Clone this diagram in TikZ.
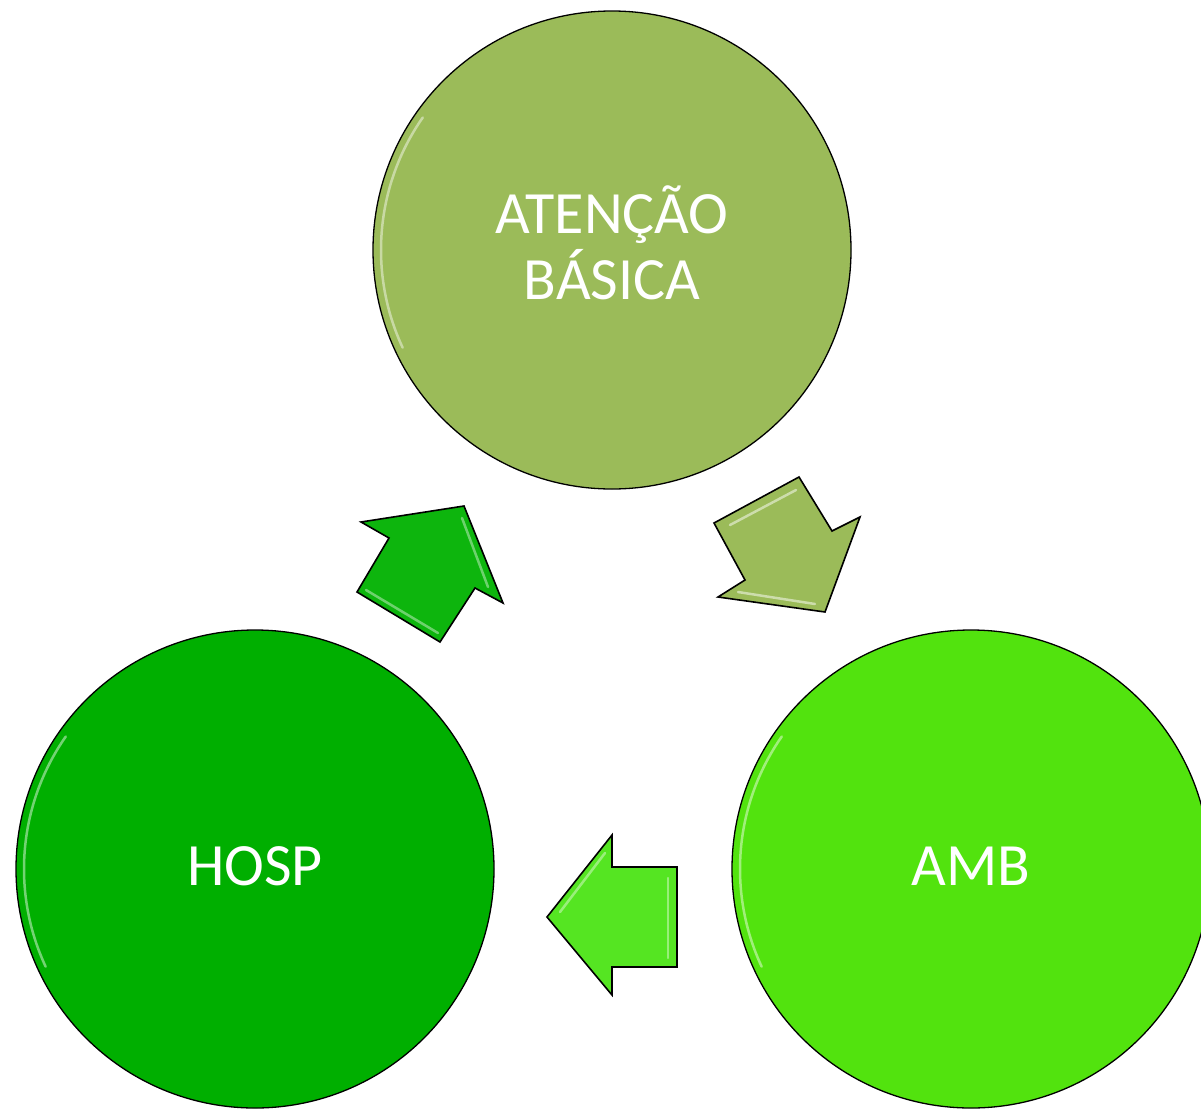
\documentclass[tikz,border=0pt]{standalone}
\usepackage{fontspec}
\setmainfont{Carlito}
\definecolor{cTop}{HTML}{9BBB59}
\definecolor{cHosp}{HTML}{00AF00}
\definecolor{cAmb}{HTML}{52E30E}
\definecolor{cUp}{HTML}{0DB50D}
\definecolor{cLeft}{HTML}{55E522}
\begin{document}
\begin{tikzpicture}[x=1pt,y=-1pt,
  circ/.style={circle,draw=black,line width=1.3pt,minimum size=478pt,inner sep=0pt},
  lbl/.style={text=white,font=\fontsize{60}{66}\selectfont,align=center,inner sep=0pt},
  blockarrow/.style={draw=black,line width=1.6pt,line join=miter},
  gloss/.style={white,opacity=0.45,line width=2.5pt,line cap=round}]
\useasboundingbox (0,0) rectangle (1201,1108);
\node[circ,fill=cTop] (top) at (612,250) {};
\node[circ,fill=cHosp] (hosp) at (255,869) {};
\node[circ,fill=cAmb] (amb) at (971,869) {};
\node[lbl] (toptext) at (612,243) {ATENÇÃO\\BÁSICA};
\node[lbl] (hosptext) at (255,866) {HOSP};
\node[lbl] (ambtext) at (971,866) {AMB};
\foreach \c in {top,hosp,amb}{
  \draw[gloss] (\c.center) ++(155:231) arc (155:215:231);
}
% arrow HOSP -> top
\draw[blockarrow,fill=cUp] (464,506) -- (503,603) -- (475,588) -- (440,642) -- (357,592) -- (389,538) -- (361,522) -- cycle;
\draw[gloss,opacity=0.4] (366,590) -- (438,633);
\draw[gloss,opacity=0.4] (462,518) -- (488,587);
% arrow top -> AMB
\draw[blockarrow,fill=cTop] (714,523) -- (799,477) -- (832,531) -- (860,517) -- (825,612) -- (718,597) -- (745,580) -- cycle;
\draw[gloss,opacity=0.5] (730,525) -- (796,490);
\draw[gloss,opacity=0.5] (738,592) -- (815,604);
% arrow AMB -> HOSP
\draw[blockarrow,fill=cLeft] (547,917) -- (612,835) -- (612,867) -- (677,867) -- (677,967) -- (612,967) -- (612,995) -- cycle;
\draw[gloss,opacity=0.4] (560,912) -- (605,853);
\draw[gloss,opacity=0.4] (668,878) -- (668,958);
\end{tikzpicture}
\end{document}
